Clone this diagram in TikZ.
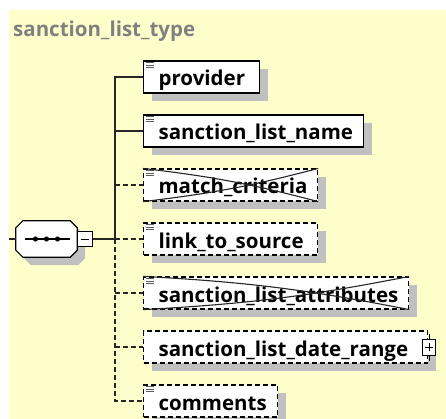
\documentclass[tikz,border=0pt]{standalone}
\usepackage{fontspec}
\setmainfont{Open Sans}
\usetikzlibrary{shadows}
\definecolor{bgyellow}{RGB}{255,255,204}
\definecolor{shadowgray}{RGB}{192,192,192}
\definecolor{titlegray}{RGB}{128,128,128}
\definecolor{icongray}{RGB}{90,90,90}
% element label padded to a fixed box width
\newcommand\eltext[2]{\makebox[#1pt][l]{\hspace*{15pt}#2}}
% octagon outline around the compositor node
\newcommand\octpath[1]{([xshift=7pt]#1.north west) -- ([xshift=-7pt]#1.north east) -- ([yshift=-7pt]#1.north east)
  -- ([yshift=7pt]#1.south east) -- ([xshift=-7pt]#1.south east) -- ([xshift=7pt]#1.south west)
  -- ([yshift=7pt]#1.south west) -- ([yshift=-7pt]#1.north west) -- cycle}
\begin{document}
\begin{tikzpicture}[x=1pt,y=-1pt,
  shade/.style={drop shadow={shadow xshift=8pt,shadow yshift=-8pt,fill=shadowgray,opacity=1}},
  elem/.style={draw=black,line width=1.2pt,fill=white,shade,anchor=west,
    minimum height=32pt,inner sep=0pt,
    font=\fontsize{20.5}{22}\selectfont\bfseries,text height=22pt,text depth=4pt},
  optelem/.style={elem,dash pattern=on 5pt off 3pt},
  conn/.style={line width=1.3pt,black!85},
  optconn/.style={conn,dash pattern=on 5pt off 3pt},
  iconline/.style={line width=1.1pt,icongray},
  crossline/.style={line width=1.1pt,black!85},
  title/.style={font=\fontsize{20.5}{22}\selectfont\bfseries,text=titlegray,inner sep=0pt}]
\useasboundingbox (0,0) rectangle (446,419);
\fill[white] (0,0) rectangle (446,419);
\fill[bgyellow] (9,10) rectangle (446,419);

\node[title,anchor=base west] (title) at (13,37) {sanction\_list\_type};

% child elements
\node[elem] (provider) at (143,77) {\eltext{116}{provider}};
\node[elem] (name) at (143,131) {\eltext{220}{sanction\_list\_name}};
\node[optelem] (match) at (143,185) {\eltext{174}{match\_criteria}};
\node[optelem] (link) at (143,239) {\eltext{174}{link\_to\_source}};
\node[optelem] (attr) at (143,293) {\eltext{265}{sanction\_list\_attributes}};
\node[optelem] (range) at (143,347) {\eltext{284}{sanction\_list\_date\_range}};
\node[optelem] (comments) at (143,401) {\eltext{134}{comments}};

% simple-type markers
\foreach \n in {provider,name,match,link,attr,comments}{
  \draw[iconline] (\n.north west) ++(3,2.5) -- ++(8,0) ++(-8,2.5) -- ++(8,0) ++(-8,2.5) -- ++(8,0);
}

% prohibited elements
\foreach \n in {match,attr}{
  \draw[crossline] (\n.north west) to[bend left=4] (\n.south east);
  \draw[crossline] (\n.south west) to[bend right=4] (\n.north east);
}

% expand button of the complex element
\node[draw=black,line width=1pt,fill=white,minimum width=13pt,minimum height=16pt,inner sep=0pt] (rangeplus) at (429,347) {};
\draw[line width=1pt] (rangeplus.north) -- ++(0,-5);
\draw[line width=1pt] (rangeplus.south) -- ++(0,5);
\draw[line width=1pt] ([xshift=-4pt]rangeplus.center) -- ([xshift=4pt]rangeplus.center);
\draw[line width=1pt] ([yshift=-4pt]rangeplus.center) -- ([yshift=4pt]rangeplus.center);

% sequence compositor: an octagon around an empty node
\coordinate (in) at (9,239);
\node[minimum width=61pt,minimum height=36pt,inner sep=0pt] (seq) at (46.5,239) {};
\begin{scope}[transform canvas={xshift=8pt,yshift=-8pt}]
  \fill[shadowgray] \octpath{seq};
\end{scope}
\draw[line width=1.2pt,fill=white] \octpath{seq};
\draw[line width=1.2pt] ([xshift=-22pt]seq.center) -- ([xshift=23pt]seq.center);
\foreach \dx in {-11,0,11}
  \fill ([xshift=\dx pt]seq.center) circle (2.6pt);
\node[draw=black,line width=1pt,fill=white,minimum width=15pt,minimum height=15pt,inner sep=0pt,anchor=west] (seqminus) at (seq.east) {};
\draw[line width=1pt] ([xshift=-4pt]seqminus.center) -- ([xshift=4pt]seqminus.center);
\draw[conn] (in) -- (seq.west);

% connectors
\coordinate (spine) at (115,239);
\draw[conn] (seqminus.east) -- (spine);
\draw[conn] (provider.west) -| (spine);
\draw[conn] (name.west) -- (name.west -| spine);
\draw[optconn] (spine) |- (comments.west);
\draw[optconn] (match.west -| spine) -- (match.west);
\draw[optconn] (spine) -- (link.west);
\draw[optconn] (attr.west -| spine) -- (attr.west);
\draw[optconn] (range.west -| spine) -- (range.west);
\end{tikzpicture}
\end{document}
